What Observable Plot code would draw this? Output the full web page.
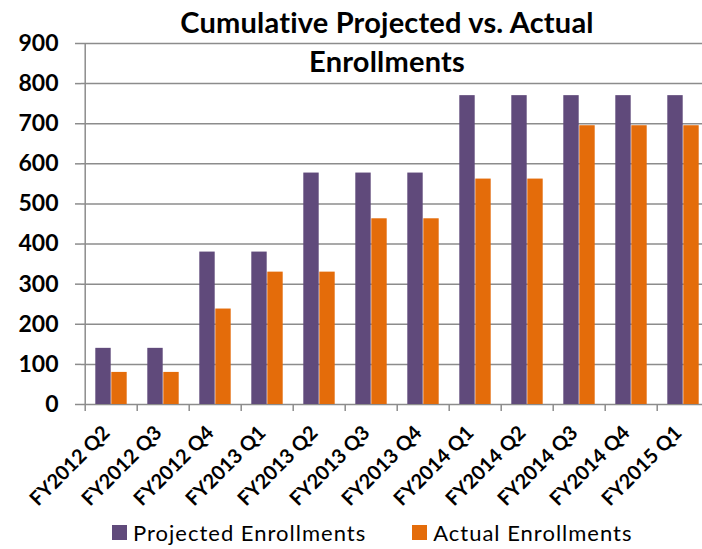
<!DOCTYPE html>
<html>
<head>
<meta charset="utf-8">
<script src="https://cdn.jsdelivr.net/npm/d3@7"></script>
<script src="https://cdn.jsdelivr.net/npm/@observablehq/plot@0.6"></script>
<style>
  html, body { margin: 0; padding: 0; background: #fff; }
  #wrap { position: relative; width: 702px; height: 549px; overflow: hidden; font-family: Lato, "DejaVu Sans", sans-serif; color: #000; }
  #chart { position: absolute; left: 0; top: 0; }
  #title { position: absolute; left: 0; width: 774px; top: 2px; text-align: center; font-weight: bold; font-size: 29px; line-height: 39px; letter-spacing: 0.2px; }
  #legend { position: absolute; top: 519px; left: 112px; font-size: 22px; letter-spacing: 1px; display: flex; align-items: center; }
  .sw { display: inline-block; width: 15px; height: 15px; margin-right: 6px; }
  .item { display: flex; align-items: center; margin-right: 46px; }
</style>
</head>
<body>
<div id="wrap">
  <div id="chart"></div>
  <div id="title">Cumulative Projected vs. Actual<br>Enrollments</div>
  <div id="legend"></div>
</div>
<script>
const categories = ["FY2012 Q2","FY2012 Q3","FY2012 Q4","FY2013 Q1","FY2013 Q2","FY2013 Q3","FY2013 Q4","FY2014 Q1","FY2014 Q2","FY2014 Q3","FY2014 Q4","FY2015 Q1"];
const projected = [140,140,380,380,577,577,577,770,770,770,770,770];
const actual    = [80,80,238,330,330,463,463,562,562,695,695,695];
const seriesNames = ["Projected Enrollments","Actual Enrollments"];
const seriesColors = ["#604A7B","#E46C0A"];
const yTicks = [0,100,200,300,400,500,600,700,800,900];

const rows = categories.map((c, i) => ({cat: c, projected: projected[i], actual: actual[i]}));
const grid = "#8c8c8c";

const plot = Plot.plot({
  width: 702,
  height: 515,
  marginLeft: 81,
  marginRight: 0,
  marginTop: 43,
  marginBottom: 111,
  style: {fontFamily: "Lato, 'DejaVu Sans', sans-serif", background: "transparent", overflow: "visible"},
  x: {domain: categories, range: [81, 712], padding: 0, label: null},
  y: {domain: [0, 900], ticks: yTicks, label: null},
  marks: [
    Plot.ruleY(yTicks, {stroke: grid, strokeWidth: 1.5}),
    Plot.barY(rows, {x: "cat", y: "projected", fill: seriesColors[0], insetLeft: 10.3, insetRight: 26.3}),
    Plot.barY(rows, {x: "cat", y: "actual", fill: seriesColors[1], insetLeft: 26.3, insetRight: 10.3}),
    Plot.ruleX([categories[0]], {y1: 0, y2: 900, dx: -26.3, stroke: grid, strokeWidth: 1.5}),
    Plot.axisY({ticks: yTicks, tickSize: 6, tickPadding: 17, stroke: grid, strokeWidth: 1.5, fill: "#000", fontSize: 23, fontWeight: "bold", label: null}),
    Plot.axisX({tickSize: 7, text: null, dx: -26.3, stroke: grid, strokeWidth: 1.5, label: null}),
    Plot.axisX({tickSize: 0, tickRotate: -45, tickPadding: 25, fill: "#000", fontSize: 20, fontWeight: "bold", dx: -5, label: null})
  ]
});
document.getElementById("chart").appendChild(plot);

const legend = document.getElementById("legend");
seriesNames.forEach((n, i) => {
  const it = document.createElement("div");
  it.className = "item";
  it.innerHTML = `<span class="sw" style="background:${seriesColors[i]}"></span><span>${n}</span>`;
  legend.appendChild(it);
});
</script>
</body>
</html>
